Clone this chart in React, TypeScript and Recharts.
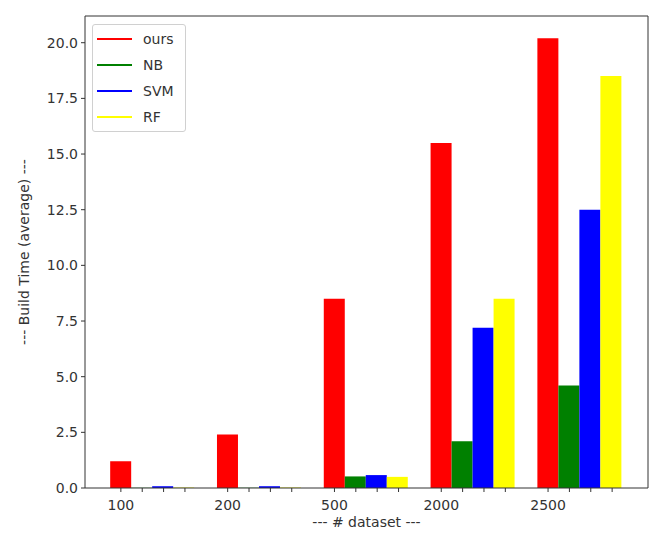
import { BarChart, Bar, XAxis, YAxis, Legend } from "recharts";

// values
const CATEGORIES = ["100", "200", "500", "2000", "2500"];
const OURS = [1.2, 2.4, 8.5, 15.5, 20.2];
const NB = [0.01, 0.01, 0.52, 2.1, 4.6];
const SVM = [0.08, 0.08, 0.58, 7.2, 12.5];
const RF = [0.02, 0.02, 0.5, 8.5, 18.5];
const Y_TICKS = [0, 2.5, 5, 7.5, 10, 12.5, 15, 17.5, 20];
const Y_MAX = 21.2;

const SERIES = [
  { key: "ours", name: "ours", color: "#ff0000" },
  { key: "nb", name: "NB", color: "#008000" },
  { key: "svm", name: "SVM", color: "#0000ff" },
  { key: "rf", name: "RF", color: "#ffff00" },
];

const DATA = CATEGORIES.map((dataset, i) => ({
  dataset,
  ours: OURS[i],
  nb: NB[i],
  svm: SVM[i],
  rf: RF[i],
}));

// layout
const W = 660;
const H = 540;
const MARGIN = { top: 15, right: 11, bottom: 0, left: 0 };
const Y_AXIS_W = 85;
const X_AXIS_H = 52;
const FRAME_AXIS = 1; // thin top/right axes that only draw the frame
const X_PAD = 14.5;
const PLOT_W = W - MARGIN.left - MARGIN.right - Y_AXIS_W - FRAME_AXIS;
const PLOT_H = H - MARGIN.top - MARGIN.bottom - X_AXIS_H - FRAME_AXIS;
const PLOT_TOP = MARGIN.top + FRAME_AXIS;
const BAND = (PLOT_W - 2 * X_PAD) / CATEGORIES.length;
const SLOT = BAND / (SERIES.length + 1);
const INK = "#333";
const FONT = "'DejaVu Sans', sans-serif";

// one tick mark under every bar, label only under the first bar of a group
function XTick({ x, y, payload }: any) {
  const offsets = SERIES.map((_, k) => (k - (SERIES.length - 1) / 2) * SLOT);
  return (
    <g>
      {offsets.map((o) => (
        <line key={o} x1={x + o} x2={x + o} y1={y} y2={y + 4} stroke={INK} strokeWidth={1} />
      ))}
      <text
        x={x + offsets[0]}
        y={y + 22}
        textAnchor="middle"
        fill={INK}
        fontSize={14}
        fontFamily={FONT}
      >
        {payload.value}
      </text>
    </g>
  );
}

function YLabel() {
  const cx = 24;
  const cy = PLOT_TOP + PLOT_H / 2;
  return (
    <text
      x={cx}
      y={cy}
      dy="0.35em"
      textAnchor="middle"
      transform={`rotate(-90, ${cx}, ${cy})`}
      fill={INK}
      fontSize={14}
      fontFamily={FONT}
    >
      --- Build Time (average) ---
    </text>
  );
}

function XLabel() {
  const cx = MARGIN.left + Y_AXIS_W + PLOT_W / 2;
  return (
    <text x={cx} y={PLOT_TOP + PLOT_H + 39} textAnchor="middle" fill={INK} fontSize={14} fontFamily={FONT}>
      --- # dataset ---
    </text>
  );
}

function LegendBox() {
  return (
    <div
      style={{
        border: "1px solid #d0d0d0",
        borderRadius: 3,
        background: "rgba(255,255,255,0.8)",
        padding: "1px 0",
        width: 94,
        boxSizing: "border-box",
        fontFamily: FONT,
        fontSize: 14,
        color: INK,
      }}
    >
      {SERIES.map((s) => (
        <div key={s.key} style={{ display: "flex", alignItems: "center", height: 26 }}>
          <svg width={50} height={26} style={{ display: "block" }}>
            <line x1={4} x2={39} y1={13} y2={13} stroke={s.color} strokeWidth={2} />
          </svg>
          <span>{s.name}</span>
        </div>
      ))}
    </div>
  );
}

export default function App() {
  return (
    <div style={{ position: "absolute", left: 0, top: 0, background: "#fff" }}>
      <BarChart width={W} height={H} data={DATA} margin={MARGIN} barCategoryGap="10%" barGap={0}>
        <XAxis
          dataKey="dataset"
          height={X_AXIS_H}
          padding={{ left: X_PAD, right: X_PAD }}
          axisLine={{ stroke: INK }}
          tickLine={false}
          tickSize={0}
          tickMargin={0}
          interval={0}
          tick={<XTick />}
          label={<XLabel />}
        />
        <XAxis
          xAxisId="top"
          dataKey="dataset"
          orientation="top"
          height={FRAME_AXIS}
          padding={{ left: X_PAD, right: X_PAD }}
          axisLine={{ stroke: INK }}
          tick={false}
          tickLine={false}
        />
        <YAxis
          width={Y_AXIS_W}
          domain={[0, Y_MAX]}
          ticks={Y_TICKS}
          interval={0}
          tickFormatter={(v) => Number(v).toFixed(1)}
          axisLine={{ stroke: INK }}
          tickLine={{ stroke: INK }}
          tickSize={4}
          tickMargin={3}
          tick={{ fill: INK, fontSize: 14, fontFamily: FONT }}
          label={<YLabel />}
        />
        <YAxis
          yAxisId="right"
          orientation="right"
          width={FRAME_AXIS}
          domain={[0, Y_MAX]}
          axisLine={{ stroke: INK }}
          tick={false}
          tickLine={false}
        />
        <Legend
          layout="vertical"
          align="center"
          verticalAlign="middle"
          wrapperStyle={{ left: 92, top: 24, width: 94 }}
          content={() => <LegendBox />}
        />
        {SERIES.map((s) => (
          <Bar key={s.key} dataKey={s.key} name={s.name} fill={s.color} isAnimationActive={false} />
        ))}
      </BarChart>
    </div>
  );
}
